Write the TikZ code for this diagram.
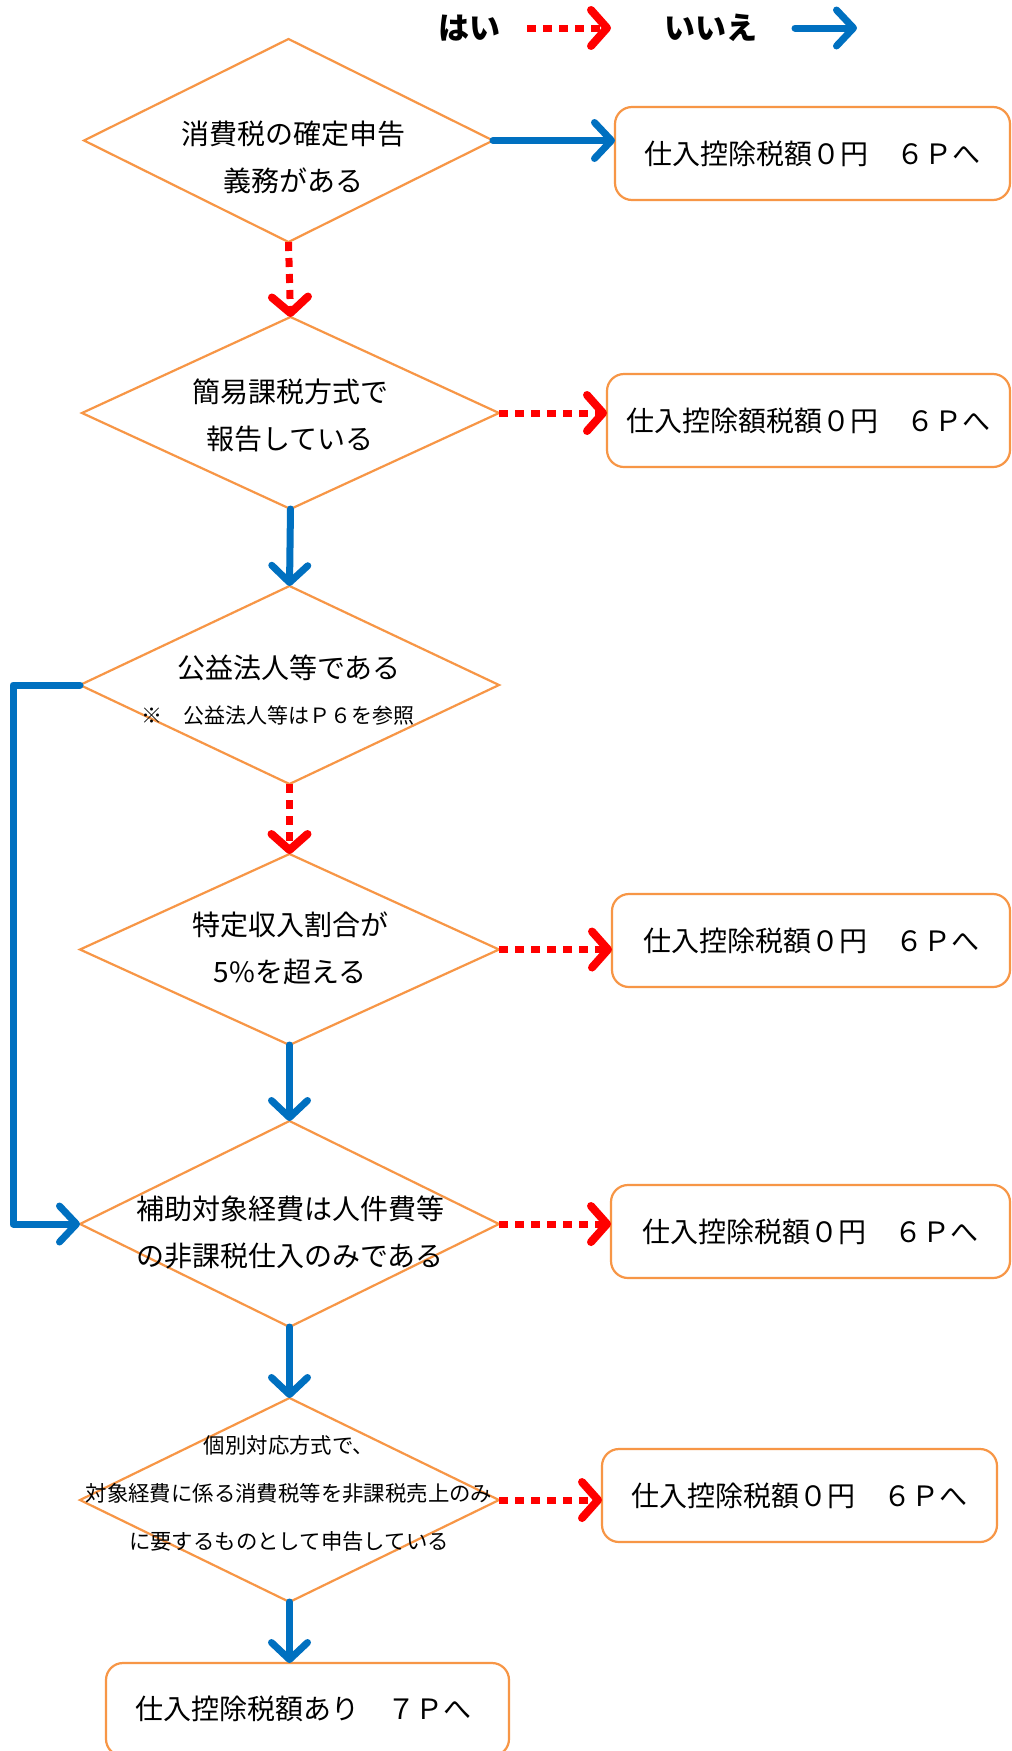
\documentclass[tikz,border=0pt]{standalone}
\usepackage{fontspec}
\setmainfont{Noto Sans CJK JP}
\usetikzlibrary{shapes.geometric,arrows.meta}
\definecolor{oline}{HTML}{F79646}
\definecolor{bl}{HTML}{0070C0}
\definecolor{rd}{HTML}{FF0000}
\tikzset{
  dia/.style={shape=diamond, draw=oline, line width=2.2pt, minimum width=#1, inner sep=0pt, outer sep=0pt},
  endbox/.style={draw=oline, line width=2.2pt, rounded corners=17pt, minimum height=93pt, inner sep=0pt, outer sep=0pt, anchor=north west},
  bigtxt/.style={font=\fontsize{28}{47}\selectfont, align=center, inner sep=0pt},
  boxtxt/.style={font=\fontsize{28}{34}\selectfont, inner sep=0pt},
  smalltxt/.style={font=\fontsize{21}{24}\selectfont, inner sep=0pt},
  d6txt/.style={font=\fontsize{21.4}{48}\selectfont, align=center, inner sep=0pt},
  legtxt/.style={font=\fontsize{31}{34}\selectfont\bfseries, inner sep=0pt},
  noarr/.style={draw=bl, line width=7pt, line cap=round, line join=round, -{Straight Barb[length=17pt,width=36pt,line width=7pt,round]}},
  yesarr/.style={draw=rd, line width=7pt, dash pattern=on 9pt off 7pt, -{Straight Barb[length=16pt,width=36pt,line width=8pt,round]}},
}
\begin{document}
\begin{tikzpicture}[x=1pt,y=-1pt]
\useasboundingbox (0,0) rectangle (1012,1751);
\fill[white] (0,0) rectangle (1012,1751);

% legend
\node[legtxt] (lyes) at (469,28) {はい};
\coordinate (lys) at (527,28);
\coordinate (lye) at (611,28);
\draw[yesarr] (lys) -- (lye);
\node[legtxt] (lno) at (711,28) {いいえ};
\coordinate (lns) at (795,28);
\coordinate (lne) at (857,28);
\draw[noarr] (lns) -- (lne);

% diamonds
\node[dia=409pt, minimum height=203pt] (d1) at (288.5,140.5) {};
\node[dia=417pt, minimum height=192pt] (d2) at (290.5,413) {};
\node[dia=419pt, minimum height=198pt] (d3) at (289.5,685) {};
\node[dia=419pt, minimum height=191pt] (d4) at (289.5,949.5) {};
\node[dia=419pt, minimum height=206pt] (d5) at (289.5,1224) {};
\node[dia=419pt, minimum height=204pt] (d6) at (289.5,1500) {};

% diamond texts
\node[bigtxt] (t1) at (293,157) {消費税の確定申告\\義務がある};
\node[bigtxt] (t2) at (290,415) {簡易課税方式で\\報告している};
\node[bigtxt] (t3) at (289,668) {公益法人等である};
\node[smalltxt] (t3n) at (278,716) {※　公益法人等はＰ６を参照};
\node[bigtxt] (t4) at (290,948) {特定収入割合が\\5\%を超える};
\node[bigtxt] (t5) at (290,1232) {補助対象経費は人件費等\\の非課税仕入のみである};
\node[d6txt] (t6) at (289,1493) {個別対応方式で、\\対象経費に係る消費税等を非課税売上のみ\\に要するものとして申告している};

% end boxes
\node[endbox, minimum width=395pt] (b1) at (615,107) {};
\node[boxtxt] (b1t) at (b1.center) {仕入控除税額０円　６Ｐへ};
\node[endbox, minimum width=403pt] (b2) at (607,374) {};
\node[boxtxt] (b2t) at (b2.center) {仕入控除額税額０円　６Ｐへ};
\node[endbox, minimum width=398pt] (b4) at (612,894) {};
\node[boxtxt] (b4t) at (b4.center) {仕入控除税額０円　６Ｐへ};
\node[endbox, minimum width=399pt] (b5) at (611,1185) {};
\node[boxtxt] (b5t) at (b5.center) {仕入控除税額０円　６Ｐへ};
\node[endbox, minimum width=395pt] (b6) at (602,1449) {};
\node[boxtxt] (b6t) at (b6.center) {仕入控除税額０円　６Ｐへ};
\node[endbox, minimum width=403pt] (b7) at (106,1663) {};
\node[boxtxt] (b7t) at (303,1709) {仕入控除税額あり　７Ｐへ};

% connectors
\draw[noarr] (d1.east) -- (d1.east -| b1.west);
\draw[yesarr] (d1.south) -- (d2.north);
\draw[yesarr] (d2.east) -- (d2.east -| b2.west);
\draw[noarr] (d2.south) -- (d3.north);
\coordinate (lx) at (13,0);
\draw[noarr] (d3.west) -- (d3.west -| lx) |- (d5.west);
\draw[yesarr] (d3.south) -- (d4.north);
\draw[yesarr] (d4.east) -- (d4.east -| b4.west);
\draw[noarr] (d4.south) -- (d5.north);
\draw[yesarr] (d5.east) -- (d5.east -| b5.west);
\draw[noarr] (d5.south) -- (d6.north);
\draw[yesarr] (d6.east) -- (d6.east -| b6.west);
\draw[noarr] (d6.south) -- (d6.south |- b7.north);
\end{tikzpicture}
\end{document}
